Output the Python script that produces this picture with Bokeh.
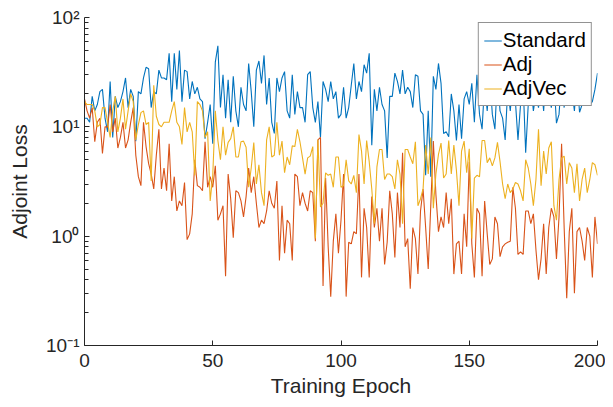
from bokeh.plotting import figure
from bokeh.models import FixedTicker
from bokeh.embed import file_html
from bokeh.resources import INLINE

epochs = list(range(0, 201))

standard = [
    12, 12, 11, 19, 14, 16, 21, 22, 12, 9,
    26, 8, 19, 15, 17, 21, 28, 15, 22, 19,
    7.4, 21, 20, 28, 35, 34, 15, 21, 20, 33,
    28, 28, 27, 47, 17, 47, 22, 50, 17, 33,
    32, 18, 26, 20, 23, 18, 17, 7.8, 11, 16,
    7, 39, 55, 15, 30, 12, 27, 11, 29, 14,
    10, 23, 16, 14, 38, 21, 10, 33, 40, 25,
    45, 16, 28, 11, 8.7, 28, 21, 28, 32, 14,
    12, 30, 13, 21, 15, 15, 11, 30, 32, 15,
    11, 17, 8, 26, 22, 17, 26, 18, 21, 12,
    13, 23, 12, 15, 24, 38, 18, 26, 21, 37,
    31, 47, 6.8, 22, 14, 23, 16, 14, 5.2, 19,
    19, 31, 26, 20, 33, 20, 23, 21, 15, 30,
    29, 14, 13, 3.6, 14, 3.5, 29, 22, 38, 25,
    8.7, 9, 8.1, 20, 14, 7.5, 16, 7.8, 18, 21,
    16, 25, 11, 30, 13, 9.5, 25, 14, 30, 13,
    9.5, 30, 14, 12, 7.6, 22, 14, 26, 17, 7.6,
    16, 25, 5.8, 16, 25, 14, 20, 15, 25, 14,
    32, 20, 15, 28, 10.8, 13, 28, 15, 35, 16,
    22, 14, 28, 13.6, 16, 30, 17, 16, 17, 22,
    31,
]

adj = [
    18, 14, 12, 15, 7.3, 11, 12, 5.7, 10, 10,
    16, 9, 12, 6.4, 8, 11, 6.4, 7.6, 11, 15,
    5.5, 3.5, 2.9, 11, 6.6, 4.6, 3.7, 2.7, 5.5, 9.5,
    2.7, 4.2, 2.6, 7, 2.1, 3.5, 1.7, 2.1, 1.9, 3.1,
    0.93, 1.05, 1.6, 5, 2.9, 2.8, 2.6, 7.3, 2.8, 3.5,
    2.8, 4.4, 1.4, 1.6, 1.9, 0.43, 3.7, 2.2, 0.97, 2.6,
    2.5, 2.1, 1.5, 2.3, 4.2, 2.5, 3.5, 2.0, 1.2, 1.4,
    1.3, 1.7, 2.6, 2.0, 1.8, 3.2, 0.6, 1.9, 0.7, 1.4,
    1.3, 0.6, 3.7, 3.5, 1.9, 2.5, 2.0, 1.7, 2.6, 2.5,
    0.9, 7.6, 8, 0.35, 3.4, 0.8, 0.28, 0.9, 1.6, 0.7,
    1.4, 3.7, 0.28, 0.88, 0.85, 1.1, 1.05, 3.7, 0.42, 1.8,
    1.2, 0.42, 2.3, 1.2, 1.8, 0.9, 1.8, 0.55, 0.88, 2.6,
    1.6, 0.64, 2.5, 1.2, 5.8, 0.8, 0.95, 0.33, 1.2, 0.95,
    0.45, 1.7, 2.7, 1.2, 0.5, 1.9, 7.4, 2.4, 1.1, 1.5,
    1.2, 2.5, 1.3, 2.2, 0.45, 0.85, 0.9, 0.45, 1.6, 0.8,
    4.8, 0.85, 0.42, 1.8, 1.6, 0.43, 2.1, 1.05, 0.55, 0.62,
    1.5, 1.3, 0.65, 0.8, 0.85, 0.88, 0.9, 2.8, 1.8, 0.68,
    0.72, 0.68, 1.7, 1.7, 1.3, 1.6, 0.75, 0.4, 0.62, 1.3,
    0.45, 1.2, 1.8, 1.5, 0.62, 1.5, 7, 1.2, 0.27, 1.1,
    1.8, 0.3, 1.1, 1.2, 0.9, 0.6, 1.2, 1.0, 0.42, 1.5,
    0.85,
]

adjvec = [
    17, 16, 16, 16, 14, 10, 10.5, 15, 15, 11,
    8, 14, 19, 9, 12, 18, 9.5, 14, 20, 17,
    7.6, 10.5, 13.5, 14, 10.5, 11, 3.2, 24, 12.5, 10.5,
    10, 11, 11, 11, 14, 17, 11, 10, 6.9, 15,
    9, 11, 9, 3.6, 17, 16, 14, 8, 9, 2.1,
    3.6, 14, 7.5, 5, 10, 5.5, 7.2, 7.8, 10, 5.3,
    5.3, 7.3, 7.4, 6.5, 2.8, 4.2, 7.2, 3.0, 4.5, 2.5,
    1.9, 7.6, 10, 5.3, 5.5, 11, 5.5, 7.4, 3.8, 5.3,
    4.5, 6.7, 6.6, 9.5, 7.3, 5.2, 3.7, 5.2, 5.4, 6.6,
    0.95, 7.6, 1.85, 2.0, 3.8, 3.6, 3.7, 2.8, 5.3, 5.3,
    2.8, 2.9, 5.0, 3.2, 3.0, 3.6, 2.5, 8.5, 6.0, 3.0,
    7.5, 4.8, 2.7, 1.3, 4.3, 6.2, 6.2, 3.3, 3.7, 3.7,
    3.5, 2.7, 5.0, 3.7, 1.3, 6.2, 6.2, 5.3, 4.6, 7.3,
    1.9, 2.2, 2.7, 6.8, 3.7, 8, 1.8, 3.7, 5.6, 7.1,
    3.4, 3.7, 7.5, 3.7, 6.8, 4.0, 1.9, 6.0, 7.4, 3.8,
    6.3, 0.95, 3.4, 3.6, 3.5, 7.5, 7.5, 4.7, 5.2, 4.4,
    5.2, 7.2, 4.8, 3.0, 2.2, 3.0, 2.5, 2.7, 3.1, 3.0,
    2.6, 2.1, 5.0, 4.2, 3.0, 1.9, 3.3, 9.5, 2.9, 6.0,
    3.7, 6.4, 7.3, 1.9, 1.4, 3.3, 5.2, 5.4, 3.0, 4.7,
    4.2, 2.5, 4.6, 2.1, 3.3, 4.2, 2.5, 3.3, 4.7, 4.5,
    3.6,
]

series_names = ["Standard", "Adj", "AdjVec"]
series_colors = ["#0072BD", "#D95319", "#EDB120"]

x_ticks = [0, 50, 100, 150, 200]
y_ticks = [0.1, 1, 10, 100]
y_tick_labels = ["10\u207b\u00b9", "10\u2070", "10\u00b9", "10\u00b2"]
y_minor_ticks = [m * d for d in (0.1, 1, 10) for m in range(2, 10)]

FONT = "Liberation Sans"
INK = "#262626"

p = figure(width=605, height=399, x_range=(0, 200), y_range=(0.1, 100),
           y_axis_type="log", output_backend="svg", toolbar_location=None,
           min_border_left=84, min_border_right=8, min_border_top=17,
           min_border_bottom=53)
p.outline_line_color = None
p.xgrid.visible = False
p.ygrid.visible = False
p.background_fill_color = "white"
p.border_fill_color = "white"

for name, ys, col in zip(series_names, [standard, adj, adjvec], series_colors):
    p.line(epochs, ys, color=col, line_width=1.1, legend_label=name)

p.xaxis.ticker = FixedTicker(ticks=x_ticks)
p.yaxis.ticker = FixedTicker(ticks=y_ticks, minor_ticks=y_minor_ticks)
p.yaxis.major_label_overrides = {t: s for t, s in zip(y_ticks, y_tick_labels)}

for ax in (p.xaxis, p.yaxis):
    ax.axis_line_color = INK
    ax.axis_line_width = 1
    ax.major_tick_line_color = INK
    ax.minor_tick_line_color = INK
    ax.major_tick_in = 5
    ax.major_tick_out = 0
    ax.minor_tick_in = 4
    ax.minor_tick_out = 0
    ax.major_label_text_font = FONT
    ax.major_label_text_font_size = "19px"
    ax.major_label_text_color = INK
    ax.axis_label_text_font = FONT
    ax.axis_label_text_font_size = "21px"
    ax.axis_label_text_font_style = "normal"
    ax.axis_label_text_color = INK

p.xaxis.minor_tick_line_color = None
p.xaxis.axis_label = "Training Epoch"
p.yaxis.axis_label = "Adjoint Loss"
p.xaxis.major_label_standoff = 8
p.xaxis.axis_label_standoff = 4
p.yaxis.major_label_standoff = 5
p.yaxis.axis_label_standoff = 12

lg = p.legend[0]
lg.location = "top_right"
lg.margin = 5
lg.padding = 5
lg.spacing = 0
lg.glyph_width = 18
lg.glyph_height = 23
lg.label_height = 23
lg.label_standoff = 1
lg.label_text_font = FONT
lg.label_text_font_size = "20.5px"
lg.label_text_color = "black"
lg.border_line_color = INK
lg.border_line_width = 1
lg.background_fill_color = "white"
lg.background_fill_alpha = 1

open("out.html", "w").write(file_html(p, INLINE))
